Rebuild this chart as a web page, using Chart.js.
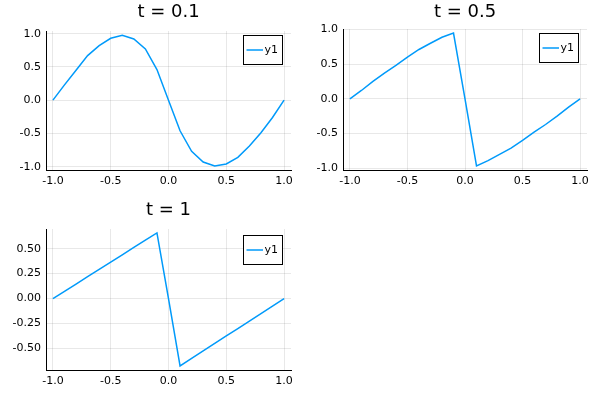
<!DOCTYPE html>
<html>
<head>
<meta charset="utf-8">
<script src="https://cdn.jsdelivr.net/npm/chart.js@4/dist/chart.umd.min.js"></script>
<style>
  html, body { margin: 0; padding: 0; background: #fff; }
  #wrap { position: relative; width: 598px; height: 395px; overflow: hidden; }
  .panel { position: absolute; }
</style>
</head>
<body>
<div id="wrap">
  <div class="panel" style="left:0px;top:0px;"><canvas id="c1" width="299" height="195"></canvas></div>
  <div class="panel" style="left:299px;top:0px;"><canvas id="c2" width="299" height="195"></canvas></div>
  <div class="panel" style="left:0px;top:195px;"><canvas id="c3" width="299" height="200"></canvas></div>
</div>
<script>
// ---- data ----
const titles = ["t = 0.1", "t = 0.5", "t = 1"];
const seriesLabel = "y1";
const xs = [-1.0, -0.9, -0.8, -0.7, -0.6, -0.5, -0.4, -0.3, -0.2, -0.1, 0.0, 0.1, 0.2, 0.3, 0.4, 0.5, 0.6, 0.7, 0.8, 0.9, 1.0];
const u_t01 = [0, 0.23, 0.45, 0.67, 0.82, 0.93, 0.975, 0.92, 0.77, 0.46, 0, -0.46, -0.77, -0.93, -0.99, -0.96, -0.86, -0.69, -0.49, -0.26, 0];
const u_t05 = [0, 0.12, 0.25, 0.37, 0.48, 0.60, 0.71, 0.80, 0.886, 0.947, 0, -0.966, -0.89, -0.80, -0.71, -0.60, -0.48, -0.37, -0.25, -0.12, 0];
const u_t1  = [0, 0.073, 0.146, 0.219, 0.292, 0.366, 0.439, 0.512, 0.585, 0.658, 0, -0.674, -0.599, -0.524, -0.449, -0.374, -0.300, -0.225, -0.150, -0.075, 0];
const xTickValues = [-1.0, -0.5, 0.0, 0.5, 1.0];
const xTickLabels = ["-1.0", "-0.5", "0.0", "0.5", "1.0"];
const yTickValuesA = [-1.0, -0.5, 0.0, 0.5, 1.0];
const yTickLabelsA = ["-1.0", "-0.5", "0.0", "0.5", "1.0"];
const yTickValuesB = [-0.5, -0.25, 0.0, 0.25, 0.5];
const yTickLabelsB = ["-0.50", "-0.25", "0.00", "0.25", "0.50"];

// ---- styling helpers ----
const LINE_COLOR = "#009AFA";
const FONT = "'DejaVu Sans', sans-serif";

const panelDecor = {
  id: "panelDecor",
  afterDraw(chart, args, opts) {
    const ctx = chart.ctx;
    const a = chart.chartArea;
    ctx.save();
    // title
    ctx.fillStyle = "#000";
    ctx.font = "18px " + FONT;
    ctx.textAlign = "center";
    ctx.textBaseline = "middle";
    ctx.fillText(opts.title, (a.left + a.right) / 2, opts.titleY);
    // legend
    const w = 39, h = 29;
    const bx = Math.round(a.right - 9 - w) + 0.5;
    const by = Math.round(a.top + opts.legendTop) + 0.5;
    ctx.fillStyle = "#fff";
    ctx.fillRect(bx, by, w, h);
    ctx.strokeStyle = "#000";
    ctx.lineWidth = 1;
    ctx.strokeRect(bx, by, w, h);
    const cy = by + h / 2;
    ctx.strokeStyle = LINE_COLOR;
    ctx.lineWidth = 1.5;
    ctx.beginPath();
    ctx.moveTo(bx + 3, cy);
    ctx.lineTo(bx + 19.5, cy);
    ctx.stroke();
    ctx.fillStyle = "#000";
    ctx.font = "11px " + FONT;
    ctx.textAlign = "left";
    ctx.textBaseline = "middle";
    ctx.fillText(chart.data.datasets[0].label, bx + 21, cy + 0.5);
    ctx.restore();
  }
};

function makeChart(id, ys, cfg) {
  const pts = xs.map((x, i) => ({ x: x, y: ys[i] }));
  return new Chart(document.getElementById(id), {
    type: "scatter",
    data: {
      datasets: [{
        label: seriesLabel,
        data: pts,
        showLine: true,
        borderColor: LINE_COLOR,
        backgroundColor: LINE_COLOR,
        borderWidth: 1.5,
        pointRadius: 0,
        tension: 0,
        fill: false
      }]
    },
    options: {
      responsive: false,
      animation: false,
      devicePixelRatio: 1,
      layout: { padding: { left: 0, right: cfg.padRight, top: cfg.padTop, bottom: 0 } },
      plugins: {
        legend: { display: false },
        title: { display: false },
        tooltip: { enabled: false },
        panelDecor: { title: cfg.title, titleY: cfg.titleY, legendTop: cfg.legendTop }
      },
      scales: {
        x: {
          type: "linear",
          min: -1.06, max: 1.06,
          afterBuildTicks: (s) => { s.ticks = xTickValues.map(v => ({ value: v })); },
          afterFit: (s) => { s.height = 25; },
          ticks: {
            color: "#000",
            font: { family: FONT, size: 11 },
            padding: 5,
            maxRotation: 0,
            autoSkip: false,
            callback: (v) => { const i = xTickValues.indexOf(v); return i >= 0 ? xTickLabels[i] : ""; }
          },
          grid: { color: "rgba(0,0,0,0.09)", lineWidth: 1, drawTicks: false },
          border: { display: true, color: "#000", width: 1 }
        },
        y: {
          type: "linear",
          min: cfg.yMin, max: cfg.yMax,
          afterBuildTicks: (s) => { s.ticks = cfg.yTicks.map(v => ({ value: v })); },
          afterFit: (s) => { s.width = cfg.yWidth; },
          ticks: {
            color: "#000",
            font: { family: FONT, size: 11 },
            padding: 5,
            autoSkip: false,
            callback: (v) => { const i = cfg.yTicks.indexOf(v); return i >= 0 ? cfg.yLabels[i] : ""; }
          },
          grid: { color: "rgba(0,0,0,0.09)", lineWidth: 1, drawTicks: false },
          border: { display: true, color: "#000", width: 1 }
        }
      }
    },
    plugins: [panelDecor]
  });
}

makeChart("c1", u_t01, {
  title: titles[0], titleY: 12, legendTop: 4,
  padRight: 8, padTop: 31, yWidth: 46,
  yMin: -1.05, yMax: 1.04, yTicks: yTickValuesA, yLabels: yTickLabelsA
});
makeChart("c2", u_t05, {
  title: titles[1], titleY: 12, legendTop: 4,
  padRight: 11, padTop: 29, yWidth: 44,
  yMin: -1.025, yMax: 1.005, yTicks: yTickValuesA, yLabels: yTickLabelsA
});
makeChart("c3", u_t1, {
  title: titles[2], titleY: 15, legendTop: 6,
  padRight: 8, padTop: 34, yWidth: 46,
  yMin: -0.715, yMax: 0.697, yTicks: yTickValuesB, yLabels: yTickLabelsB
});
</script>
</body>
</html>
